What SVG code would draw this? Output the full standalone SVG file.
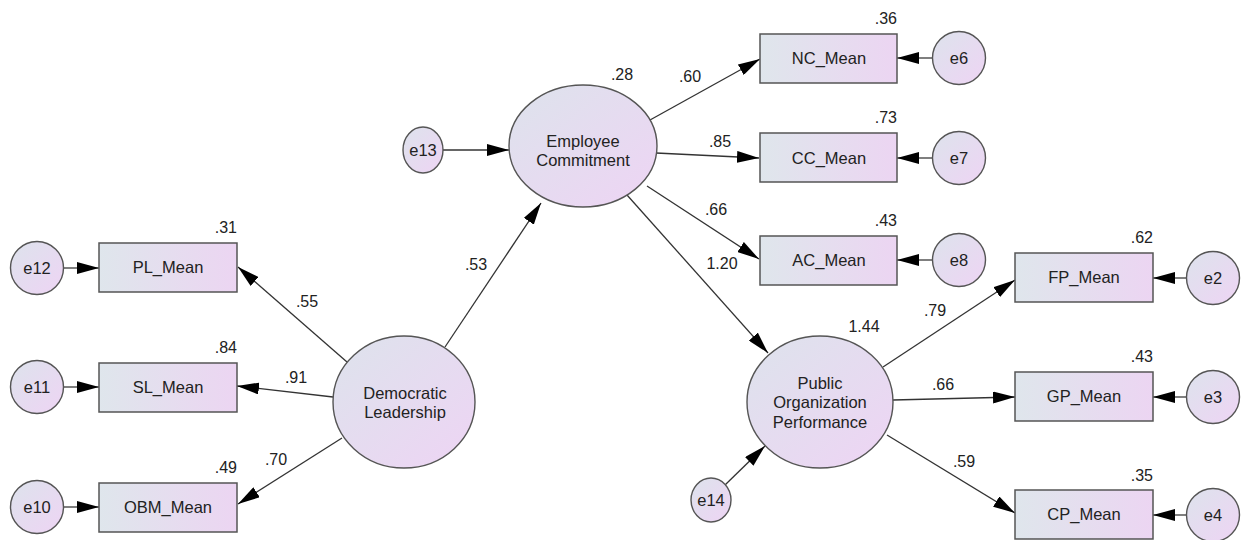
<svg xmlns="http://www.w3.org/2000/svg" width="1241" height="540" viewBox="0 0 1241 540">
<style>
.box{fill:url(#gh);stroke:#555;stroke-width:1.5}
.ell{fill:url(#gd);stroke:#555;stroke-width:1.4}
.t{font-family:"Liberation Sans",Arial,sans-serif;font-size:16.5px;fill:#222;text-anchor:middle}
.n{font-family:"Liberation Sans",Arial,sans-serif;font-size:16px;fill:#222;text-anchor:middle}
.ne{font-family:"Liberation Sans",Arial,sans-serif;font-size:16px;fill:#222;text-anchor:end}
.c{stroke:#333;stroke-width:1.3;fill:none;marker-end:url(#ah)}
.ce{stroke:#555;stroke-width:1.6;fill:none;marker-end:url(#ah)}
</style>
<defs>
<linearGradient id="gh" x1="0" y1="0" x2="1" y2="0">
<stop offset="0" stop-color="#dfe6ec"/><stop offset="1" stop-color="#ecd5f2"/>
</linearGradient>
<linearGradient id="gd" x1="0" y1="0" x2="1" y2="1">
<stop offset="0" stop-color="#dde3ec"/><stop offset="1" stop-color="#eed4f4"/>
</linearGradient>
<marker id="ah" markerUnits="userSpaceOnUse" markerWidth="22" markerHeight="12" refX="22" refY="6" orient="auto">
<path d="M0,0 L22,6 L0,12 z" fill="#000"/>
</marker>
</defs>
<rect width="1241" height="540" fill="#fff"/>

<g id="connectors">
<line class="c" x1="650" y1="120" x2="760" y2="59"/>
<line class="c" x1="656" y1="153" x2="759" y2="158"/>
<line class="c" x1="647" y1="186" x2="759" y2="259"/>
<line class="c" x1="627" y1="195" x2="768" y2="353"/>
<line class="c" x1="445" y1="347" x2="541" y2="203"/>
<line class="c" x1="443" y1="150" x2="509" y2="150"/>
<line class="c" x1="347" y1="362" x2="238" y2="267"/>
<line class="c" x1="333" y1="397" x2="237" y2="386"/>
<line class="c" x1="342" y1="438" x2="238" y2="504"/>
<line class="c" x1="883" y1="367" x2="1015" y2="280"/>
<line class="c" x1="893" y1="400" x2="1015" y2="397"/>
<line class="c" x1="887" y1="435" x2="1015" y2="513"/>
<line class="c" x1="725" y1="485" x2="765" y2="446"/>
<line class="ce" x1="63" y1="268" x2="99" y2="268"/>
<line class="ce" x1="63" y1="387" x2="99" y2="387"/>
<line class="ce" x1="63" y1="507" x2="99" y2="507"/>
<line class="ce" x1="932" y1="58" x2="897" y2="58"/>
<line class="ce" x1="932" y1="158" x2="897" y2="158"/>
<line class="ce" x1="932" y1="260" x2="897" y2="260"/>
<line class="ce" x1="1187" y1="278" x2="1153" y2="278"/>
<line class="ce" x1="1187" y1="397" x2="1153" y2="397"/>
<line class="ce" x1="1187" y1="515" x2="1153" y2="515"/>
</g>

<g id="path-labels">
<text class="n" x="690" y="82">.60</text>
<text class="n" x="720" y="147">.85</text>
<text class="n" x="716" y="215">.66</text>
<text class="n" x="722" y="269">1.20</text>
<text class="n" x="476" y="270">.53</text>
<text class="n" x="307" y="307">.55</text>
<text class="n" x="296" y="383">.91</text>
<text class="n" x="276" y="465">.70</text>
<text class="n" x="935" y="316">.79</text>
<text class="n" x="943" y="390">.66</text>
<text class="n" x="964" y="467">.59</text>
</g>

<g id="EC">
<ellipse class="ell" cx="583" cy="146" rx="74" ry="61"/>
<text class="t" x="583" y="147">Employee</text>
<text class="t" x="583" y="166">Commitment</text>
<text class="n" x="622" y="80">.28</text>
</g>
<g id="DL">
<ellipse class="ell" cx="404" cy="402" rx="71" ry="66"/>
<text class="t" x="405" y="399">Democratic</text>
<text class="t" x="405" y="418">Leadership</text>
</g>
<g id="POP">
<ellipse class="ell" cx="820" cy="402" rx="73" ry="66"/>
<text class="t" x="820" y="389">Public</text>
<text class="t" x="820" y="408">Organization</text>
<text class="t" x="820" y="428">Performance</text>
<text class="n" x="864" y="332">1.44</text>
</g>

<g id="NC"><rect class="box" x="760" y="34" width="137" height="49"/><text class="t" x="829" y="64">NC_Mean</text><text class="ne" x="897" y="24">.36</text></g>
<g id="CC"><rect class="box" x="760" y="133" width="137" height="49"/><text class="t" x="829" y="164">CC_Mean</text><text class="ne" x="897" y="123">.73</text></g>
<g id="AC"><rect class="box" x="760" y="236" width="137" height="49"/><text class="t" x="829" y="266">AC_Mean</text><text class="ne" x="897" y="226">.43</text></g>

<g id="PL"><rect class="box" x="99" y="243" width="138" height="49"/><text class="t" x="168" y="273">PL_Mean</text><text class="ne" x="237" y="233">.31</text></g>
<g id="SL"><rect class="box" x="99" y="363" width="138" height="49"/><text class="t" x="168" y="393">SL_Mean</text><text class="ne" x="237" y="353">.84</text></g>
<g id="OBM"><rect class="box" x="99" y="483" width="138" height="49"/><text class="t" x="168" y="513">OBM_Mean</text><text class="ne" x="237" y="473">.49</text></g>

<g id="FP"><rect class="box" x="1015" y="253" width="138" height="49"/><text class="t" x="1084" y="283">FP_Mean</text><text class="ne" x="1153" y="243">.62</text></g>
<g id="GP"><rect class="box" x="1015" y="372" width="138" height="49"/><text class="t" x="1084" y="402">GP_Mean</text><text class="ne" x="1153" y="362">.43</text></g>
<g id="CP"><rect class="box" x="1015" y="490" width="138" height="49"/><text class="t" x="1084" y="520">CP_Mean</text><text class="ne" x="1153" y="481">.35</text></g>

<g id="e6"><circle class="ell" cx="959" cy="58" r="26.5"/><text class="t" x="959" y="64">e6</text></g>
<g id="e7"><circle class="ell" cx="959" cy="158" r="26.5"/><text class="t" x="959" y="164">e7</text></g>
<g id="e8"><circle class="ell" cx="959" cy="260" r="26.5"/><text class="t" x="959" y="266">e8</text></g>
<g id="e12"><circle class="ell" cx="37" cy="268" r="26.5"/><text class="t" x="37" y="274">e12</text></g>
<g id="e11"><circle class="ell" cx="37" cy="387" r="26.5"/><text class="t" x="37" y="393">e11</text></g>
<g id="e10"><circle class="ell" cx="37" cy="507" r="26.5"/><text class="t" x="37" y="513">e10</text></g>
<g id="e2"><circle class="ell" cx="1213" cy="278" r="26.5"/><text class="t" x="1213" y="284">e2</text></g>
<g id="e3"><circle class="ell" cx="1213" cy="397" r="26.5"/><text class="t" x="1213" y="403">e3</text></g>
<g id="e4"><circle class="ell" cx="1213" cy="515" r="26.5"/><text class="t" x="1213" y="521">e4</text></g>
<g id="e13"><ellipse class="ell" cx="423" cy="150" rx="20" ry="23"/><text class="t" x="423" y="156">e13</text></g>
<g id="e14"><ellipse class="ell" cx="711" cy="500" rx="20" ry="22"/><text class="t" x="711" y="506">e14</text></g>
</svg>
